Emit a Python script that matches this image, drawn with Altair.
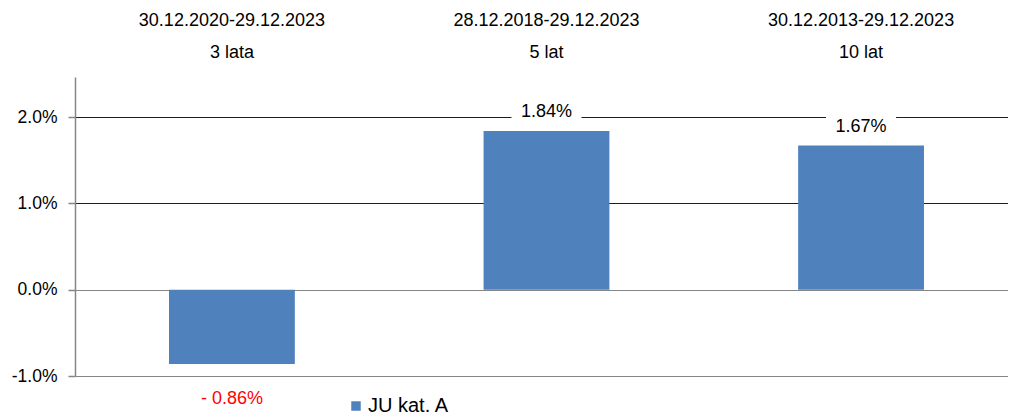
import altair as alt
import pandas as pd

# ---- data ----
periods = ["30.12.2020-29.12.2023", "28.12.2018-29.12.2023", "30.12.2013-29.12.2023"]
horizons = ["3 lata", "5 lat", "10 lat"]
returns = [-0.86, 1.84, 1.67]
series_name = "JU kat. A"
y_ticks = [-1.0, 0.0, 1.0, 2.0]

df = pd.DataFrame({
    "period": periods,
    "horizon": horizons,
    "ret": returns,
    "series": [series_name] * len(periods),
})
df["cat"] = df["period"] + "|" + df["horizon"]
order = list(df["cat"])

FONT = "Liberation Sans"
BLUE = "#4F81BD"

x_enc = alt.X(
    "cat:N",
    sort=order,
    scale=alt.Scale(paddingInner=0.6, paddingOuter=0.283, align=0.528),
    axis=alt.Axis(
        orient="top", title=None, labelAngle=0, domain=False, ticks=False,
        labelExpr="split(datum.label, '|')",
        labelFontSize=18, labelLineHeight=32, labelPadding=48,
        labelColor="#000000", labelFont=FONT, labelLimit=400,
        labelOverlap=False,
    ),
)
y_scale = alt.Scale(domain=[-1.0, 2.465], nice=False, zero=False)
y_enc = alt.Y(
    "ret:Q",
    scale=y_scale,
    axis=alt.Axis(
        values=y_ticks, title=None,
        labelExpr="(datum.value < 0 ? '-' : '') + format(abs(datum.value), '.1f') + '%'",
        labelFontSize=17.5, labelFont=FONT, labelColor="#000000",
        labelPadding=11, tickSize=7, tickColor="#868686", tickWidth=1.5,
        domainColor="#868686", domainWidth=1.5,
        grid=True,
        gridColor={"condition": {"test": "datum.value > 0", "value": "#1e1e1e"},
                   "value": "#868686"},
        gridWidth=1.2,
    ),
)

base = alt.Chart(df)

bars = base.mark_bar(color=BLUE).encode(
    x=x_enc,
    y=y_enc,
    y2=alt.datum(0),
    color=alt.Color(
        "series:N",
        scale=alt.Scale(range=[BLUE]),
        legend=alt.Legend(
            title=None, orient="none", legendX=271, legendY=319,
            symbolType="square", symbolSize=90, symbolStrokeWidth=0,
            labelFontSize=20, labelFont=FONT, labelColor="#000000",
            labelOffset=2, padding=0,
        ),
    ),
)

label_expr = ("datum.ret < 0 ? '- ' + format(-datum.ret, '.2f') + '%' "
              ": format(datum.ret, '.2f') + '%'")

boxes = base.transform_filter("datum.ret >= 0").transform_calculate(
    lo="datum.ret + 0.08", hi="datum.ret + 0.40"
).mark_bar(color="white", size=70).encode(
    x=alt.X("cat:N", sort=order),
    y=alt.Y("lo:Q", scale=y_scale),
    y2="hi:Q",
)

pos_labels = base.transform_filter("datum.ret >= 0").transform_calculate(
    lab=label_expr
).mark_text(
    baseline="alphabetic", align="center", dy=-14, fontSize=18, font=FONT,
    color="#000000",
).encode(
    x=alt.X("cat:N", sort=order),
    y=alt.Y("ret:Q", scale=y_scale),
    text="lab:N",
)

neg_labels = base.transform_filter("datum.ret < 0").transform_calculate(
    lab=label_expr
).mark_text(
    baseline="alphabetic", align="center", dy=40, fontSize=18, font=FONT,
    color="#FF0000",
).encode(
    x=alt.X("cat:N", sort=order),
    y=alt.Y("ret:Q", scale=y_scale),
    text="lab:N",
)

chart = alt.layer(bars, boxes, pos_labels, neg_labels).properties(
    width=933,
    height=299,
    autosize=alt.AutoSizeParams(type="none"),
    padding={"left": 67, "top": 69, "right": 0, "bottom": 40},
).configure_view(stroke=None)

chart.save("out.html", embed_options={"renderer": "svg", "actions": False})
